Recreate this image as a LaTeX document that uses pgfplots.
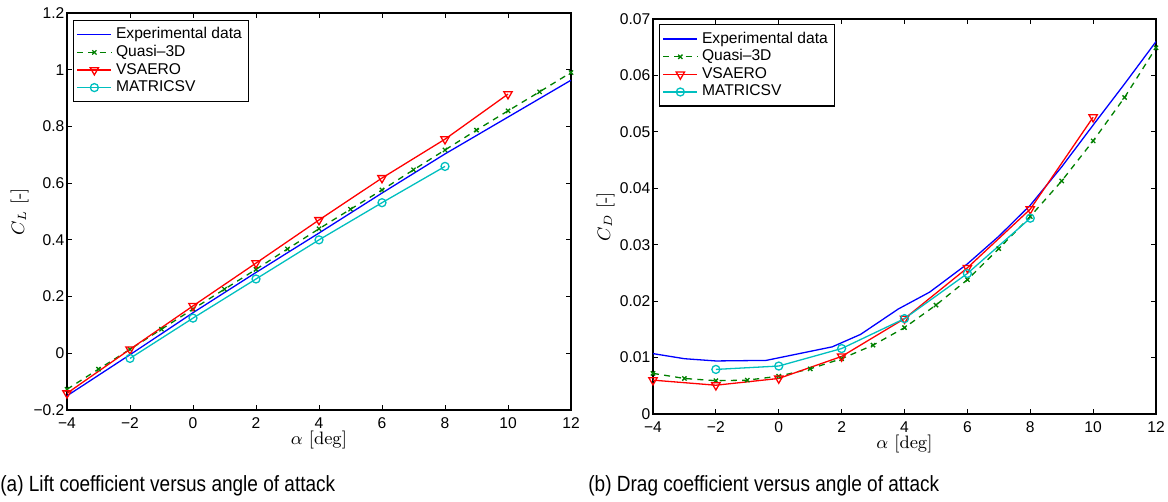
\documentclass[border=0pt]{standalone}
\usepackage[no-math]{fontspec}
\setmainfont{Liberation Sans}
\usepackage{pgfplots}
\pgfplotsset{compat=1.18}
\definecolor{mblue}{rgb}{0,0,1}
\definecolor{mgreen}{rgb}{0,0.5,0}
\definecolor{mred}{rgb}{1,0,0}
\definecolor{mcyan}{rgb}{0,0.75,0.75}
\pgfplotsset{
  mystyle/.style={
    scale only axis,
    anchor=south west,
    xmin=-4, xmax=12,
    xtick={-4,-2,0,2,4,6,8,10,12},
    xticklabels={−4,−2,0,2,4,6,8,10,12},
    scaled ticks=false,
    tick align=inside,
    xtick pos=both, ytick pos=both,
    major tick length=2.5pt,
    tick style={black, line width=0.5pt},
    axis line style={line width=0.7pt},
    ticklabel style={font=\fontsize{7.8}{9}\selectfont},
    xticklabel style={yshift=-0.5pt},
    yticklabel style={xshift=2.2pt},
    label style={font=\fontsize{9}{10}\fontfamily{lmr}\selectfont},
    xlabel style={at={(axis description cs:0.5,-0.076)}, anchor=center},
    ylabel style={at={(axis description cs:-0.094,0.5)}, anchor=center, rotate=0},
    xlabel={$\alpha\ [\mathrm{deg}]$},
    legend cell align=left,
    legend style={font=\fontsize{7.8}{9}\selectfont, draw=black, line width=0.6pt,
      anchor=north west, inner sep=1.5pt, row sep=-2.2pt, fill=white},
    every axis plot/.append style={line width=0.65pt},
  },
  exp/.style={mblue, no marks},
  q3d/.style={mgreen, dash pattern=on 3pt off 2.6pt, mark=x, mark size=1.5pt, mark options={solid}},
  vsa/.style={mred, mark=triangle, mark size=2.4pt, mark options={solid, rotate=180}},
  mat/.style={mcyan, mark=o, mark size=2pt, mark options={solid}},
}
\begin{document}
\begin{tikzpicture}
\path[use as bounding box] (0,0) rectangle (584pt,-251pt);
% ---------- (a) lift ----------
\begin{axis}[mystyle,
  at={(33.5pt,-205pt)}, width=252pt, height=198.5pt,
  ymin=-0.2, ymax=1.2,
  ytick={-0.2,0,0.2,0.4,0.6,0.8,1,1.2},
  yticklabels={−0.2,0,0.2,0.4,0.6,0.8,1,1.2},
  ylabel={$C_L$ [-]},
  legend style={at={(0.012,0.983)}},
]
\addplot[exp] coordinates {(-4,-0.150) (-2,-0.005) (0,0.143) (2,0.285) (4,0.424) (6,0.565) (8,0.703) (10,0.833) (12,0.963)};
\addlegendentry{Experimental data}
\addplot[q3d] coordinates {(-4,-0.127) (-3,-0.056) (-2,0.014) (-1,0.085) (0,0.156) (1,0.226) (2,0.296) (3,0.368) (4,0.439) (5,0.508) (6,0.576) (7,0.647) (8,0.717) (9,0.787) (10,0.855) (11,0.922) (12,0.990)};
\addlegendentry{Quasi–3D}
\addplot[vsa] coordinates {(-4,-0.141) (-2,0.014) (0,0.167) (2,0.318) (4,0.470) (6,0.618) (8,0.755) (10,0.914)};
\addlegendentry{VSAERO}
\addplot[mat] coordinates {(-2,-0.018) (0,0.124) (2,0.262) (4,0.400) (6,0.531) (8,0.659)};
\addlegendentry{MATRICSV}
\end{axis}
% ---------- (b) drag ----------
\begin{axis}[mystyle,
  at={(326.5pt,-207pt)}, width=251.5pt, height=197.5pt,
  ymin=0, ymax=0.07,
  ytick={0,0.01,0.02,0.03,0.04,0.05,0.06,0.07},
  yticklabels={0,0.01,0.02,0.03,0.04,0.05,0.06,0.07},
  ylabel={$C_D$ [-]},
  legend style={at={(0.012,0.987)}},
]
\addplot[exp] coordinates {(-4,0.0107) (-3,0.0098) (-2,0.0094) (-0.4,0.0095) (1.7,0.0119) (2.6,0.0141) (3.8,0.0186) (4.8,0.0216) (6,0.0266) (7,0.0315) (8,0.0370) (9,0.0438) (10,0.0512) (11,0.0585) (12,0.0660)};
\addlegendentry{Experimental data}
\addplot[q3d] coordinates {(-4,0.0072) (-3,0.0063) (-2,0.0059) (-1,0.0060) (0,0.0067) (1,0.0080) (2,0.0098) (3,0.0122) (4,0.0153) (5,0.0193) (6,0.0238) (7,0.0293) (8,0.0350) (9,0.0413) (10,0.0484) (11,0.0561) (12,0.0649)};
\addlegendentry{Quasi–3D}
\addplot[vsa] coordinates {(-4,0.0060) (-2,0.0051) (0,0.0063) (2,0.0102) (4,0.0169) (6,0.0259) (8,0.0363) (10,0.0526)};
\addlegendentry{VSAERO}
\addplot[mat] coordinates {(-2,0.0079) (0,0.0085) (2,0.0116) (4,0.0169) (6,0.0249) (8,0.0347)};
\addlegendentry{MATRICSV}
\end{axis}
\node[anchor=base west, inner sep=0, font=\fontsize{11}{13}\selectfont, xscale=0.865] at (0pt,-245.5pt) {(a) Lift coefficient versus angle of attack};
\node[anchor=base west, inner sep=0, font=\fontsize{11}{13}\selectfont, xscale=0.865] at (294pt,-245.5pt) {(b) Drag coefficient versus angle of attack};
\end{tikzpicture}
\end{document}
